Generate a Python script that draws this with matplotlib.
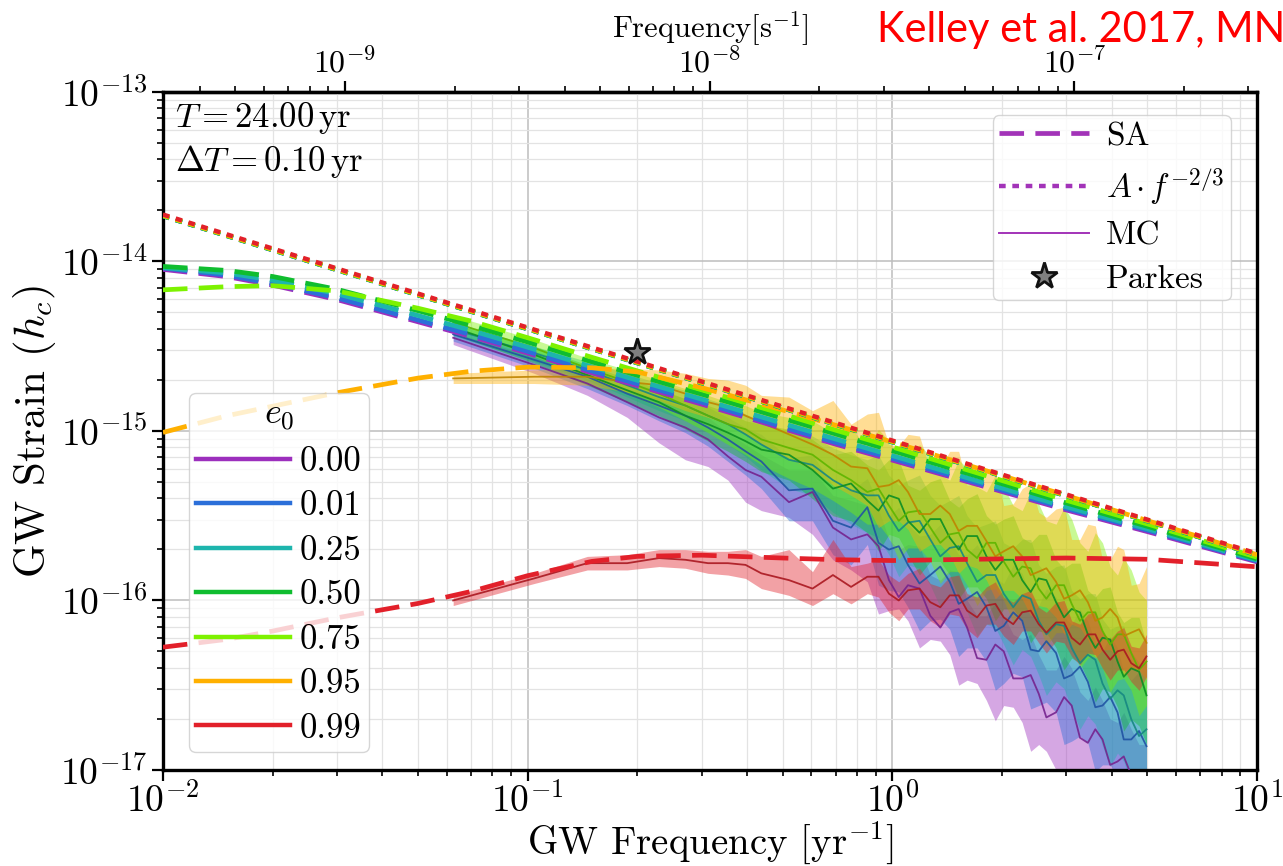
import numpy as np
import matplotlib
matplotlib.use("Agg")
import matplotlib.pyplot as plt
import matplotlib.colors as mcolors
from matplotlib.lines import Line2D
from matplotlib.ticker import FixedLocator, LogLocator, NullFormatter

plt.rcParams.update({
    "font.family": "serif",
    "font.serif": ["cmr10"],
    "mathtext.fontset": "cm",
    "axes.unicode_minus": False,
    "axes.formatter.use_mathtext": True,
})

# ---------------- data ----------------
e0_labels = ["0.00", "0.01", "0.25", "0.50", "0.75", "0.95", "0.99"]
e0_colors = ["#9c2fbd", "#2b6fd9", "#1db5ad", "#0fbd2f", "#7df200", "#ffb000", "#e2202a"]

# semi-analytic (SA) spectra, h_c in units of 1e-16
freq_sa = [0.01, 0.015, 0.02, 0.03, 0.05, 0.07, 0.1, 0.15, 0.2, 0.3, 0.5, 0.7, 1.0, 2.0, 3.0, 5.0, 10.0]
sa_e000 = [89.8, 81.4, 72.5, 59.6, 44.1, 36.1, 28.8, 22.0, 18.5, 14.4, 10.35, 8.35, 6.73, 4.39, 3.42, 2.55, 1.69]
sa_e001 = [91.5, 83.0, 74.0, 61.0, 45.2, 37.0, 29.5, 22.6, 19.0, 14.8, 10.6, 8.55, 6.9, 4.48, 3.49, 2.6, 1.71]
sa_e025 = [92.0, 85.5, 77.5, 64.5, 48.0, 39.2, 31.2, 23.9, 19.9, 15.4, 11.1, 8.95, 7.15, 4.6, 3.57, 2.65, 1.73]
sa_e050 = [93.5, 88.5, 81.5, 68.5, 51.3, 42.0, 33.5, 25.6, 21.3, 16.5, 11.9, 9.6, 7.65, 4.88, 3.76, 2.74, 1.76]
sa_e075 = [68.0, 71.0, 72.0, 67.0, 53.0, 44.5, 35.5, 27.2, 22.6, 17.5, 12.6, 10.1, 8.05, 5.1, 3.9, 2.83, 1.8]
sa_e095 = [9.8, 12.3, 14.0, 16.8, 20.5, 22.5, 23.8, 23.6, 22.3, 18.0, 13.3, 10.8, 8.6, 5.45, 4.16, 2.96, 1.86]
sa_e099 = [0.53, 0.59, 0.66, 0.79, 0.96, 1.13, 1.40, 1.70, 1.82, 1.85, 1.78, 1.74, 1.72, 1.76, 1.78, 1.75, 1.58]

# power-law amplitude A at f = 1/yr, one per e0
plaw_amp = [8.60e-16, 8.60e-16, 8.60e-16, 8.62e-16, 8.64e-16, 8.68e-16, 8.78e-16]
plaw_freq = [0.01, 10.0]

# Parkes point
parkes_freq = 0.2
parkes_hc = 2.92e-15

# Monte Carlo (MC) spectra: log10 h_c median and band edges
freq_mc = [0.0625, 0.1042, 0.1458, 0.1875, 0.2292, 0.2708, 0.3125, 0.3542, 0.3958, 0.4375,
           0.5208, 0.6042, 0.6875, 0.7708, 0.8542, 0.9792, 1.104, 1.271, 1.4375, 1.604,
           1.8125, 2.021, 2.271, 2.521, 2.8125, 3.104, 3.4375, 3.771, 4.146, 4.521, 4.979]

mc_med_e000 = [-14.45, -14.61, -14.72, -14.83, -14.92, -14.98, -15.05, -15.15, -15.23, -15.27, -15.42, -15.36, -15.57, -15.64, -15.61, -15.88, -15.91, -16.09, -16.07, -16.16, -16.35, -16.30, -16.46, -16.55, -16.66, -16.62, -16.84, -16.82, -16.95, -17.03, -17.12]
mc_lo_e000 = [-14.49, -14.66, -14.79, -14.92, -15.07, -15.17, -15.21, -15.29, -15.42, -15.47, -15.51, -15.61, -15.76, -15.82, -15.89, -16.06, -16.12, -16.23, -16.32, -16.47, -16.59, -16.62, -16.72, -16.85, -17.00, -17.18, -17.30, -17.35, -17.47, -17.53, -17.59]
mc_hi_e000 = [-14.42, -14.56, -14.66, -14.75, -14.81, -14.86, -14.92, -15.01, -15.08, -15.14, -15.23, -15.23, -15.38, -15.41, -15.44, -15.64, -15.67, -15.85, -15.82, -16.00, -16.09, -16.09, -16.23, -16.32, -16.41, -16.40, -16.59, -16.59, -16.72, -16.76, -16.85]

mc_med_e001 = [-14.43, -14.58, -14.68, -14.78, -14.85, -14.91, -14.98, -15.05, -15.12, -15.18, -15.35, -15.34, -15.53, -15.57, -15.45, -15.70, -15.79, -15.85, -15.89, -15.99, -16.04, -16.15, -16.12, -16.30, -16.31, -16.44, -16.48, -16.62, -16.66, -16.82, -16.86]
mc_lo_e001 = [-14.47, -14.63, -14.75, -14.85, -14.94, -15.01, -15.09, -15.18, -15.26, -15.34, -15.53, -15.53, -15.73, -15.79, -15.67, -15.94, -16.04, -16.12, -16.17, -16.28, -16.36, -16.49, -16.45, -16.62, -16.66, -16.83, -16.84, -16.97, -17.04, -17.22, -17.30]
mc_hi_e001 = [-14.40, -14.53, -14.62, -14.71, -14.76, -14.81, -14.86, -14.92, -14.98, -15.02, -15.16, -15.14, -15.32, -15.35, -15.28, -15.50, -15.55, -15.61, -15.64, -15.73, -15.76, -15.90, -15.84, -16.03, -15.98, -16.14, -16.12, -16.30, -16.28, -16.47, -16.53]

mc_med_e025 = [-14.40, -14.54, -14.64, -14.73, -14.80, -14.85, -14.91, -14.96, -15.02, -15.08, -15.17, -15.20, -15.29, -15.35, -15.38, -15.50, -15.54, -15.64, -15.69, -15.78, -15.85, -15.96, -15.97, -16.12, -16.14, -16.28, -16.32, -16.49, -16.53, -16.70, -16.76]
mc_lo_e025 = [-14.44, -14.59, -14.70, -14.80, -14.88, -14.94, -15.01, -15.08, -15.15, -15.23, -15.34, -15.38, -15.48, -15.55, -15.60, -15.73, -15.79, -15.91, -15.97, -16.07, -16.14, -16.26, -16.29, -16.44, -16.48, -16.64, -16.68, -16.86, -16.90, -17.08, -17.16]
mc_hi_e025 = [-14.37, -14.50, -14.59, -14.66, -14.72, -14.76, -14.81, -14.85, -14.90, -14.94, -15.01, -15.03, -15.10, -15.14, -15.17, -15.26, -15.29, -15.38, -15.41, -15.50, -15.55, -15.66, -15.64, -15.79, -15.80, -15.94, -15.96, -16.11, -16.15, -16.30, -16.36]

mc_med_e050 = [-14.39, -14.55, -14.67, -14.76, -14.83, -14.91, -14.96, -15.01, -15.06, -15.11, -15.14, -15.23, -15.34, -15.31, -15.41, -15.38, -15.53, -15.52, -15.63, -15.62, -15.74, -15.76, -15.88, -15.87, -16.01, -16.05, -16.20, -16.22, -16.36, -16.40, -16.56]
mc_lo_e050 = [-14.43, -14.60, -14.73, -14.83, -14.91, -14.99, -15.06, -15.12, -15.18, -15.24, -15.29, -15.40, -15.50, -15.53, -15.60, -15.61, -15.73, -15.77, -15.85, -15.92, -15.99, -16.05, -16.12, -16.18, -16.28, -16.34, -16.47, -16.52, -16.63, -16.70, -16.85]
mc_hi_e050 = [-14.36, -14.50, -14.61, -14.69, -14.75, -14.81, -14.85, -14.89, -14.94, -14.96, -14.99, -15.05, -15.14, -15.12, -15.20, -15.17, -15.32, -15.30, -15.41, -15.40, -15.50, -15.52, -15.63, -15.61, -15.76, -15.78, -15.94, -15.93, -16.07, -16.10, -16.26]

mc_med_e075 = [-14.36, -14.51, -14.63, -14.71, -14.78, -14.85, -14.91, -14.96, -14.99, -15.05, -15.10, -15.14, -15.23, -15.29, -15.36, -15.44, -15.48, -15.57, -15.61, -15.70, -15.66, -15.77, -15.80, -15.93, -15.91, -16.02, -16.07, -16.18, -16.20, -16.31, -16.36]
mc_lo_e075 = [-14.39, -14.56, -14.69, -14.78, -14.86, -14.94, -15.01, -15.08, -15.14, -15.20, -15.28, -15.34, -15.41, -15.48, -15.55, -15.63, -15.69, -15.77, -15.83, -15.91, -15.94, -16.00, -16.06, -16.14, -16.19, -16.26, -16.34, -16.40, -16.47, -16.53, -16.62]
mc_hi_e075 = [-14.32, -14.46, -14.57, -14.64, -14.70, -14.75, -14.79, -14.83, -14.85, -14.89, -14.92, -14.94, -15.01, -14.98, -15.10, -15.06, -15.18, -15.15, -15.29, -15.22, -15.36, -15.33, -15.47, -15.43, -15.55, -15.52, -15.71, -15.66, -15.85, -15.82, -16.00]

mc_med_e095 = [-14.69, -14.68, -14.68, -14.71, -14.73, -14.78, -14.83, -14.86, -14.91, -14.95, -15.02, -15.08, -15.14, -15.21, -15.22, -15.32, -15.36, -15.49, -15.49, -15.56, -15.65, -15.71, -15.74, -15.83, -15.89, -15.97, -16.01, -16.10, -16.10, -16.19, -16.25]
mc_lo_e095 = [-14.72, -14.72, -14.73, -14.77, -14.82, -14.88, -14.92, -14.96, -15.02, -15.08, -15.16, -15.23, -15.32, -15.38, -15.44, -15.53, -15.58, -15.67, -15.73, -15.79, -15.88, -15.94, -15.99, -16.03, -16.10, -16.14, -16.23, -16.29, -16.34, -16.40, -16.47]
mc_hi_e095 = [-14.66, -14.64, -14.63, -14.63, -14.64, -14.66, -14.69, -14.70, -14.73, -14.79, -14.80, -14.88, -14.82, -14.96, -14.90, -15.08, -15.02, -15.23, -15.12, -15.32, -15.22, -15.44, -15.34, -15.48, -15.46, -15.64, -15.55, -15.76, -15.68, -15.91, -15.80]

mc_med_e099 = [-16.00, -15.87, -15.78, -15.78, -15.75, -15.76, -15.78, -15.78, -15.79, -15.84, -15.88, -15.93, -15.85, -15.92, -15.86, -15.96, -15.94, -16.01, -15.97, -16.06, -16.03, -16.10, -16.07, -16.14, -16.13, -16.22, -16.20, -16.29, -16.30, -16.37, -16.33]
mc_lo_e099 = [-16.03, -15.90, -15.82, -15.82, -15.80, -15.81, -15.84, -15.85, -15.87, -15.93, -15.97, -16.03, -15.96, -16.02, -15.96, -16.07, -16.05, -16.12, -16.08, -16.17, -16.14, -16.21, -16.18, -16.25, -16.24, -16.33, -16.31, -16.40, -16.41, -16.48, -16.45]
mc_hi_e099 = [-15.97, -15.84, -15.74, -15.73, -15.70, -15.70, -15.71, -15.71, -15.70, -15.74, -15.70, -15.83, -15.64, -15.80, -15.78, -15.85, -15.84, -15.90, -15.86, -15.96, -15.92, -15.98, -15.96, -16.04, -16.01, -16.12, -16.08, -16.19, -16.18, -16.27, -16.20]

# extra MC bins at high frequency (between the bins listed above)
freq_mc_extra = [0.9167, 1.0417, 1.1875, 1.354, 1.521, 1.7083, 1.9167, 2.146, 2.396, 2.6458,
                 2.9583, 3.271, 3.604, 3.9583, 4.3125, 4.75]

mc_med_x_e000 = [-15.68, -15.98, -15.93, -16.16, -16.05, -16.34, -16.26, -16.46, -16.44, -16.69, -16.57, -16.81, -16.76, -16.97, -16.92, -17.16]
mc_lo_x_e000 = [-16.08, -16.05, -16.28, -16.24, -16.50, -16.49, -16.71, -16.63, -16.89, -16.89, -17.19, -17.20, -17.43, -17.37, -17.60, -17.52]
mc_hi_x_e000 = [-15.46, -15.70, -15.68, -15.88, -15.83, -16.09, -16.01, -16.20, -16.20, -16.41, -16.33, -16.54, -16.51, -16.70, -16.66, -16.85]

mc_med_x_e001 = [-15.66, -15.68, -15.90, -15.80, -16.02, -15.95, -16.18, -16.07, -16.29, -16.24, -16.46, -16.39, -16.63, -16.57, -16.82, -16.77]
mc_lo_x_e001 = [-15.91, -15.95, -16.18, -16.11, -16.33, -16.28, -16.53, -16.43, -16.64, -16.60, -16.85, -16.80, -17.01, -16.97, -17.23, -17.22]
mc_hi_x_e001 = [-15.43, -15.45, -15.62, -15.55, -15.73, -15.67, -15.87, -15.79, -15.98, -15.93, -16.10, -16.05, -16.25, -16.21, -16.42, -16.42]

mc_med_x_e025 = [-15.38, -15.59, -15.53, -15.74, -15.68, -15.89, -15.85, -16.04, -15.99, -16.20, -16.15, -16.37, -16.35, -16.58, -16.56, -16.80]
mc_lo_x_e025 = [-15.63, -15.86, -15.81, -16.04, -15.98, -16.21, -16.16, -16.38, -16.33, -16.56, -16.52, -16.76, -16.73, -16.98, -16.95, -17.22]
mc_hi_x_e025 = [-15.14, -15.32, -15.26, -15.44, -15.38, -15.57, -15.53, -15.69, -15.64, -15.84, -15.79, -15.99, -15.96, -16.17, -16.15, -16.37]

mc_med_x_e050 = [-15.47, -15.40, -15.60, -15.52, -15.70, -15.62, -15.82, -15.76, -15.95, -15.88, -16.10, -16.07, -16.28, -16.23, -16.45, -16.42]
mc_lo_x_e050 = [-15.71, -15.63, -15.85, -15.77, -15.99, -15.92, -16.12, -16.05, -16.25, -16.19, -16.41, -16.37, -16.60, -16.54, -16.77, -16.74]
mc_hi_x_e050 = [-15.23, -15.17, -15.35, -15.28, -15.45, -15.37, -15.55, -15.50, -15.66, -15.61, -15.81, -15.78, -15.98, -15.92, -16.13, -16.10]

mc_med_x_e075 = [-15.34, -15.53, -15.47, -15.66, -15.60, -15.75, -15.66, -15.86, -15.81, -15.99, -15.91, -16.12, -16.07, -16.26, -16.20, -16.41]
mc_lo_x_e075 = [-15.55, -15.76, -15.69, -15.90, -15.83, -16.03, -15.93, -16.13, -16.06, -16.27, -16.19, -16.40, -16.33, -16.54, -16.46, -16.68]
mc_hi_x_e075 = [-14.99, -15.16, -15.08, -15.26, -15.17, -15.33, -15.26, -15.44, -15.36, -15.53, -15.45, -15.66, -15.60, -15.80, -15.75, -15.95]

mc_med_x_e095 = [-15.33, -15.29, -15.49, -15.44, -15.59, -15.56, -15.74, -15.68, -15.85, -15.81, -15.99, -15.94, -16.12, -16.05, -16.21, -16.17]
mc_lo_x_e095 = [-15.57, -15.53, -15.71, -15.67, -15.84, -15.81, -15.99, -15.94, -16.09, -16.04, -16.20, -16.16, -16.34, -16.29, -16.45, -16.41]
mc_hi_x_e095 = [-14.89, -15.09, -15.03, -15.22, -15.12, -15.31, -15.23, -15.43, -15.31, -15.51, -15.45, -15.64, -15.56, -15.76, -15.70, -15.90]

mc_med_x_e099 = [-15.86, -16.00, -15.93, -16.04, -15.97, -16.10, -16.02, -16.14, -16.06, -16.19, -16.13, -16.26, -16.20, -16.35, -16.29, -16.40]
mc_lo_x_e099 = [-15.98, -16.12, -16.05, -16.16, -16.09, -16.22, -16.14, -16.26, -16.18, -16.31, -16.25, -16.38, -16.32, -16.47, -16.41, -16.53]
mc_hi_x_e099 = [-15.76, -15.89, -15.81, -15.92, -15.85, -15.98, -15.89, -16.01, -15.94, -16.07, -16.00, -16.14, -16.07, -16.23, -16.16, -16.28]

sa_all = [sa_e000, sa_e001, sa_e025, sa_e050, sa_e075, sa_e095, sa_e099]
mc_med_all = [mc_med_e000, mc_med_e001, mc_med_e025, mc_med_e050, mc_med_e075, mc_med_e095, mc_med_e099]
mc_lo_all = [mc_lo_e000, mc_lo_e001, mc_lo_e025, mc_lo_e050, mc_lo_e075, mc_lo_e095, mc_lo_e099]
mc_hi_all = [mc_hi_e000, mc_hi_e001, mc_hi_e025, mc_hi_e050, mc_hi_e075, mc_hi_e095, mc_hi_e099]
mc_med_x_all = [mc_med_x_e000, mc_med_x_e001, mc_med_x_e025, mc_med_x_e050, mc_med_x_e075, mc_med_x_e095, mc_med_x_e099]
mc_lo_x_all = [mc_lo_x_e000, mc_lo_x_e001, mc_lo_x_e025, mc_lo_x_e050, mc_lo_x_e075, mc_lo_x_e095, mc_lo_x_e099]
mc_hi_x_all = [mc_hi_x_e000, mc_hi_x_e001, mc_hi_x_e025, mc_hi_x_e050, mc_hi_x_e075, mc_hi_x_e095, mc_hi_x_e099]

# axis ticks
x_major_ticks = [1e-2, 1e-1, 1e0, 1e1]
y_major_ticks = [1e-17, 1e-16, 1e-15, 1e-14, 1e-13]
top_major_ticks = [1e-9, 1e-8, 1e-7]

YR = 3.15576e7  # seconds per year

# ---------------- figure ----------------
fig = plt.figure(figsize=(12.83, 8.66), dpi=100)
ax = fig.add_axes([0.127, 0.1109, 0.8527, 0.7829])
ax.set_xscale("log")
ax.set_yscale("log")
ax.set_xlim(1e-2, 1e1)
ax.set_ylim(1e-17, 1e-13)
ax.xaxis.set_major_locator(FixedLocator(x_major_ticks))
ax.yaxis.set_major_locator(FixedLocator(y_major_ticks))
ax.xaxis.set_minor_locator(LogLocator(base=10, subs=np.arange(2, 10), numticks=20))
ax.yaxis.set_minor_locator(LogLocator(base=10, subs=np.arange(2, 10), numticks=20))
ax.xaxis.set_minor_formatter(NullFormatter())
ax.yaxis.set_minor_formatter(NullFormatter())

ax.grid(True, which="major", color="#bdbdbd", lw=1.1, zorder=0)
ax.grid(True, which="minor", color="#e3e3e3", lw=0.9, zorder=0)
ax.set_axisbelow(True)


def darker(c, f=0.75):
    r, g, b = mcolors.to_rgb(c)
    return (r * f, g * f, b * f)


# merge the regular and extra MC bins into one frequency-ordered set
fmc_all = np.array(freq_mc + freq_mc_extra)
order = np.argsort(fmc_all)
fmc = fmc_all[order]

for col, med, lo, hi, medx, lox, hix in zip(e0_colors, mc_med_all, mc_lo_all, mc_hi_all,
                                           mc_med_x_all, mc_lo_x_all, mc_hi_x_all):
    m = np.array(med + medx)[order]
    l = np.array(lo + lox)[order]
    h = np.array(hi + hix)[order]
    ax.fill_between(fmc, 10 ** l, 10 ** h, color=col, alpha=0.42, lw=0, zorder=2)
    ax.plot(fmc, 10 ** m, color=darker(col), lw=1.3, alpha=0.9, zorder=3)

fsa = np.array(freq_sa)
for col, sa in zip(e0_colors, sa_all):
    ax.plot(fsa, np.array(sa) * 1e-16, color=col, lw=3.4, dashes=(5.2, 2.4), zorder=4)

fpl = np.array(plaw_freq)
for col, amp in zip(e0_colors, plaw_amp):
    ax.plot(fpl, amp * fpl ** (-2.0 / 3.0), color=col, lw=3.2, dashes=(1.5, 1.5), zorder=5)

ax.plot([parkes_freq], [parkes_hc], marker="*", ms=20, mfc="#808080", mec="#111111", mew=2.0,
        ls="none", zorder=6)

# axes styling
for sp in ax.spines.values():
    sp.set_linewidth(2.4)
    sp.set_color("black")
ax.tick_params(which="major", direction="out", length=8, width=1.6, labelsize=27,
               top=False, right=False)
ax.tick_params(which="minor", direction="out", length=4, width=1.2, top=False, right=False)
ax.tick_params(axis="x", which="major", pad=1)
ax.tick_params(axis="y", which="major", pad=3)

ax.set_xlabel(r"GW Frequency $[\mathrm{yr}^{-1}]$", fontsize=28, labelpad=0)
ax.set_ylabel(r"GW Strain ($h_c$)", fontsize=31, labelpad=2)

secax = ax.secondary_xaxis("top", functions=(lambda f: f / YR, lambda f: f * YR))
secax.xaxis.set_major_locator(FixedLocator(top_major_ticks))
secax.xaxis.set_minor_locator(LogLocator(base=10, subs=np.arange(2, 10), numticks=20))
secax.xaxis.set_minor_formatter(NullFormatter())
secax.tick_params(which="major", direction="out", length=8, width=1.6, labelsize=23, pad=2)
secax.tick_params(which="minor", direction="out", length=4, width=1.2)
secax.spines["top"].set_linewidth(2.4)
secax.set_xlabel(r"Frequency$[\mathrm{s}^{-1}]$", fontsize=22, labelpad=6)

ax.text(0.011, 0.988, r"$T = 24.00\,\mathrm{yr}$" + "\n" + r"$\Delta T = 0.10\,\mathrm{yr}$",
        transform=ax.transAxes, ha="left", va="top", fontsize=25, linespacing=1.25, zorder=7)

legend_color = "#a233b8"
h1 = [Line2D([], [], color=legend_color, lw=3.4, dashes=(5.2, 2.4)),
      Line2D([], [], color=legend_color, lw=3.2, dashes=(1.5, 1.5)),
      Line2D([], [], color=legend_color, lw=1.4),
      Line2D([], [], marker="*", ms=20, mfc="#808080", mec="#111111", mew=2.0, ls="none")]
leg1 = ax.legend(h1, ["SA", r"$A\,{\cdot}\,f^{-2/3}$", "MC", "Parkes"], loc="upper right",
                 bbox_to_anchor=(0.9762, 0.966), borderaxespad=0, fontsize=24,
                 handlelength=2.7, labelspacing=0.42, framealpha=0.8, edgecolor="#cccccc",
                 fancybox=True, borderpad=0.2, handletextpad=0.5)
leg1.set_zorder(10)
ax.add_artist(leg1)

h2 = [Line2D([], [], color=c, lw=3.2) for c in e0_colors]
leg2 = ax.legend(h2, e0_labels, title=r"$e_0$", title_fontsize=26, loc="upper left",
                 bbox_to_anchor=(0.0238, 0.556), borderaxespad=0, fontsize=25,
                 handlelength=2.7, labelspacing=0.37, framealpha=0.8, edgecolor="#cccccc",
                 fancybox=True, borderpad=0.2, handletextpad=0.3)
leg2.set_zorder(10)

fig.text(877 / 1283, 1 - 30 / 866, "Kelley et al. 2017, MN", color="red", fontsize=30,
         family="Lato", ha="left", va="center")

fig.savefig("out.png", dpi=100)
